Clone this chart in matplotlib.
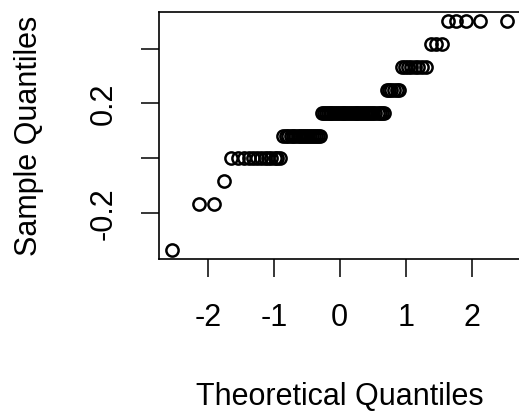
import statistics

import matplotlib
matplotlib.use("Agg")
import matplotlib.pyplot as plt
import numpy as np

plt.rcParams["font.family"] = ["Liberation Sans", "DejaVu Sans"]
plt.rcParams["axes.unicode_minus"] = False

# sample values come in twelfths; how many observations sit at each level
levels = [-4 / 12, -2 / 12, -1 / 12, 0.0, 1 / 12, 2 / 12, 3 / 12, 4 / 12, 5 / 12, 6 / 12]
counts = [1, 2, 1, 13, 18, 33, 6, 8, 3, 5]

y_ticks = [-0.2, 0.0, 0.2, 0.4]
y_tick_labels = ["-0.2", "", "0.2", ""]
x_ticks = [-2, -1, 0, 1, 2]

sample = np.sort(np.repeat(levels, counts))
n = len(sample)
# same plotting positions as R's ppoints() for n > 10
probs = (np.arange(1, n + 1) - 0.5) / n
nd = statistics.NormalDist()
theo = np.array([nd.inv_cdf(p) for p in probs])

W, H = 519, 412
fig = plt.figure(figsize=(W / 100, H / 100), dpi=100)
ax = fig.add_axes([159 / W, (H - 259) / H, (520.5 - 159) / W, 247 / H])

ax.plot(theo, sample, "o", ms=8.8, mfc="none", mec="black", mew=1.8)

def pad_range(lo, hi):
    d = (hi - lo) * 0.04
    return lo - d, hi + d

ax.set_xlim(*pad_range(theo.min(), theo.max()))
ax.set_ylim(*pad_range(sample.min(), sample.max()))

ax.set_xticks(x_ticks)
ax.set_xticklabels([str(t) for t in x_ticks])
ax.set_yticks(y_ticks)
ax.set_yticklabels(y_tick_labels, rotation=90, va="center")

ax.tick_params(length=13, width=1.1, labelsize=22)
ax.tick_params(axis="x", pad=19)
ax.tick_params(axis="y", pad=16)
for s in ax.spines.values():
    s.set_linewidth(1.2)

ax.set_xlabel("Theoretical Quantiles", fontsize=22, labelpad=35)
ax.set_ylabel("Sample Quantiles", fontsize=22, labelpad=32)

fig.savefig("out.png", dpi=100)
